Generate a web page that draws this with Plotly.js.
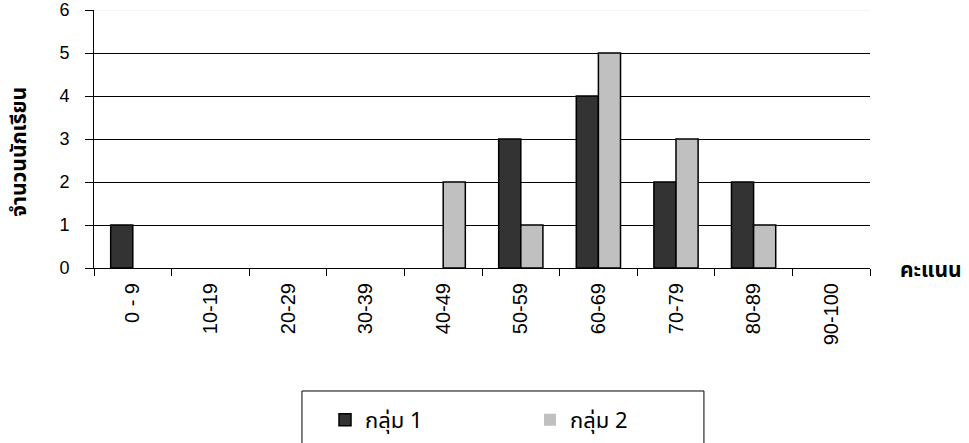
<!DOCTYPE html>
<html>
<head>
<meta charset="utf-8">
<script src="https://cdn.plot.ly/plotly-3.0.1.min.js"></script>
<style>html,body{margin:0;padding:0;background:#fff;}#chart{width:969px;height:443px;}</style>
</head>
<body>
<div id="chart"></div>
<script>
var categories = ["0 - 9","10-19","20-29","30-39","40-49","50-59","60-69","70-79","80-89","90-100"];
var group1 = [1,0,0,0,0,3,4,2,2,0];
var group2 = [0,0,0,0,2,1,5,3,1,0];
var seriesNames = ["กลุ่ม 1","กลุ่ม 2"];
var yTitle = "จำนวนนักเรียน";
var xTitle = "คะแนน";

var thai = "Noto Sans Thai, Tahoma, Noto Sans, sans-serif";
var latin = "Arial, Liberation Sans, sans-serif";

function edgeWidths(vals){ return vals.map(function(v){ return v > 0 ? 1.5 : 0; }); }

var traces = [
  {type:"bar", x:categories, y:group1, name:seriesNames[0],
   marker:{color:"#333333", line:{color:"#000000", width:edgeWidths(group1)}}, hoverinfo:"x+y"},
  {type:"bar", x:categories, y:group2, name:seriesNames[1],
   marker:{color:"#c0c0c0", line:{color:"#000000", width:edgeWidths(group2)}}, hoverinfo:"x+y"}
];

var layout = {
  width:969, height:443,
  margin:{l:94, r:99, t:10, b:175, pad:0, autoexpand:false},
  paper_bgcolor:"#ffffff", plot_bgcolor:"#ffffff",
  barmode:"group", bargap:0.43, bargroupgap:0,
  showlegend:true,
  xaxis:{type:"category", range:[-0.5,9.5], tickson:"boundaries",
    ticks:"outside", ticklen:7, tickcolor:"#000", tickwidth:1,
    showline:true, linecolor:"#000", linewidth:1, showgrid:false,
    tickangle:-90, tickfont:{family:latin, size:20, color:"#000"},
    ticklabelstandoff:6, automargin:false, fixedrange:true},
  yaxis:{range:[0,6], dtick:1, tick0:0, ticks:"outside", ticklen:8,
    tickcolor:"#000", tickwidth:1, showline:true, linecolor:"#000", linewidth:1,
    showgrid:true, gridcolor:"#000", gridwidth:1, zeroline:false,
    tickfont:{family:latin, size:18, color:"#000"}, ticklabelstandoff:12,
    automargin:false, fixedrange:true},
  legend:{orientation:"h", x:0.2977, xanchor:"left", y:-0.589, yanchor:"middle",
    bgcolor:"rgba(0,0,0,0)", borderwidth:0, entrywidth:160, entrywidthmode:"pixels",
    font:{family:thai, size:22, color:"#000"}, traceorder:"normal"},
  shapes:[
    {type:"line", xref:"paper", yref:"y", x0:0, x1:1, y0:6, y1:6,
     line:{color:"#eeeeee", width:1}, layer:"above"},
    {type:"rect", xref:"paper", yref:"paper", x0:0.268, x1:0.786, y0:-0.4767, y1:-0.85,
     line:{color:"#000", width:1}, fillcolor:"rgba(0,0,0,0)", layer:"below"}
  ],
  annotations:[
    {text:"<b>"+yTitle+"</b>", xref:"paper", yref:"paper", x:-0.0954, y:0.45,
     xanchor:"center", yanchor:"middle", textangle:-90, showarrow:false,
     font:{family:thai, size:21, color:"#000"}},
    {text:"<b>"+xTitle+"</b>", xref:"paper", yref:"paper", x:1.0786, y:-0.008,
     xanchor:"center", yanchor:"middle", showarrow:false,
     font:{family:thai, size:21, color:"#000"}}
  ]
};

Plotly.newPlot("chart", traces, layout, {displayModeBar:false, staticPlot:true});
</script>
</body>
</html>
